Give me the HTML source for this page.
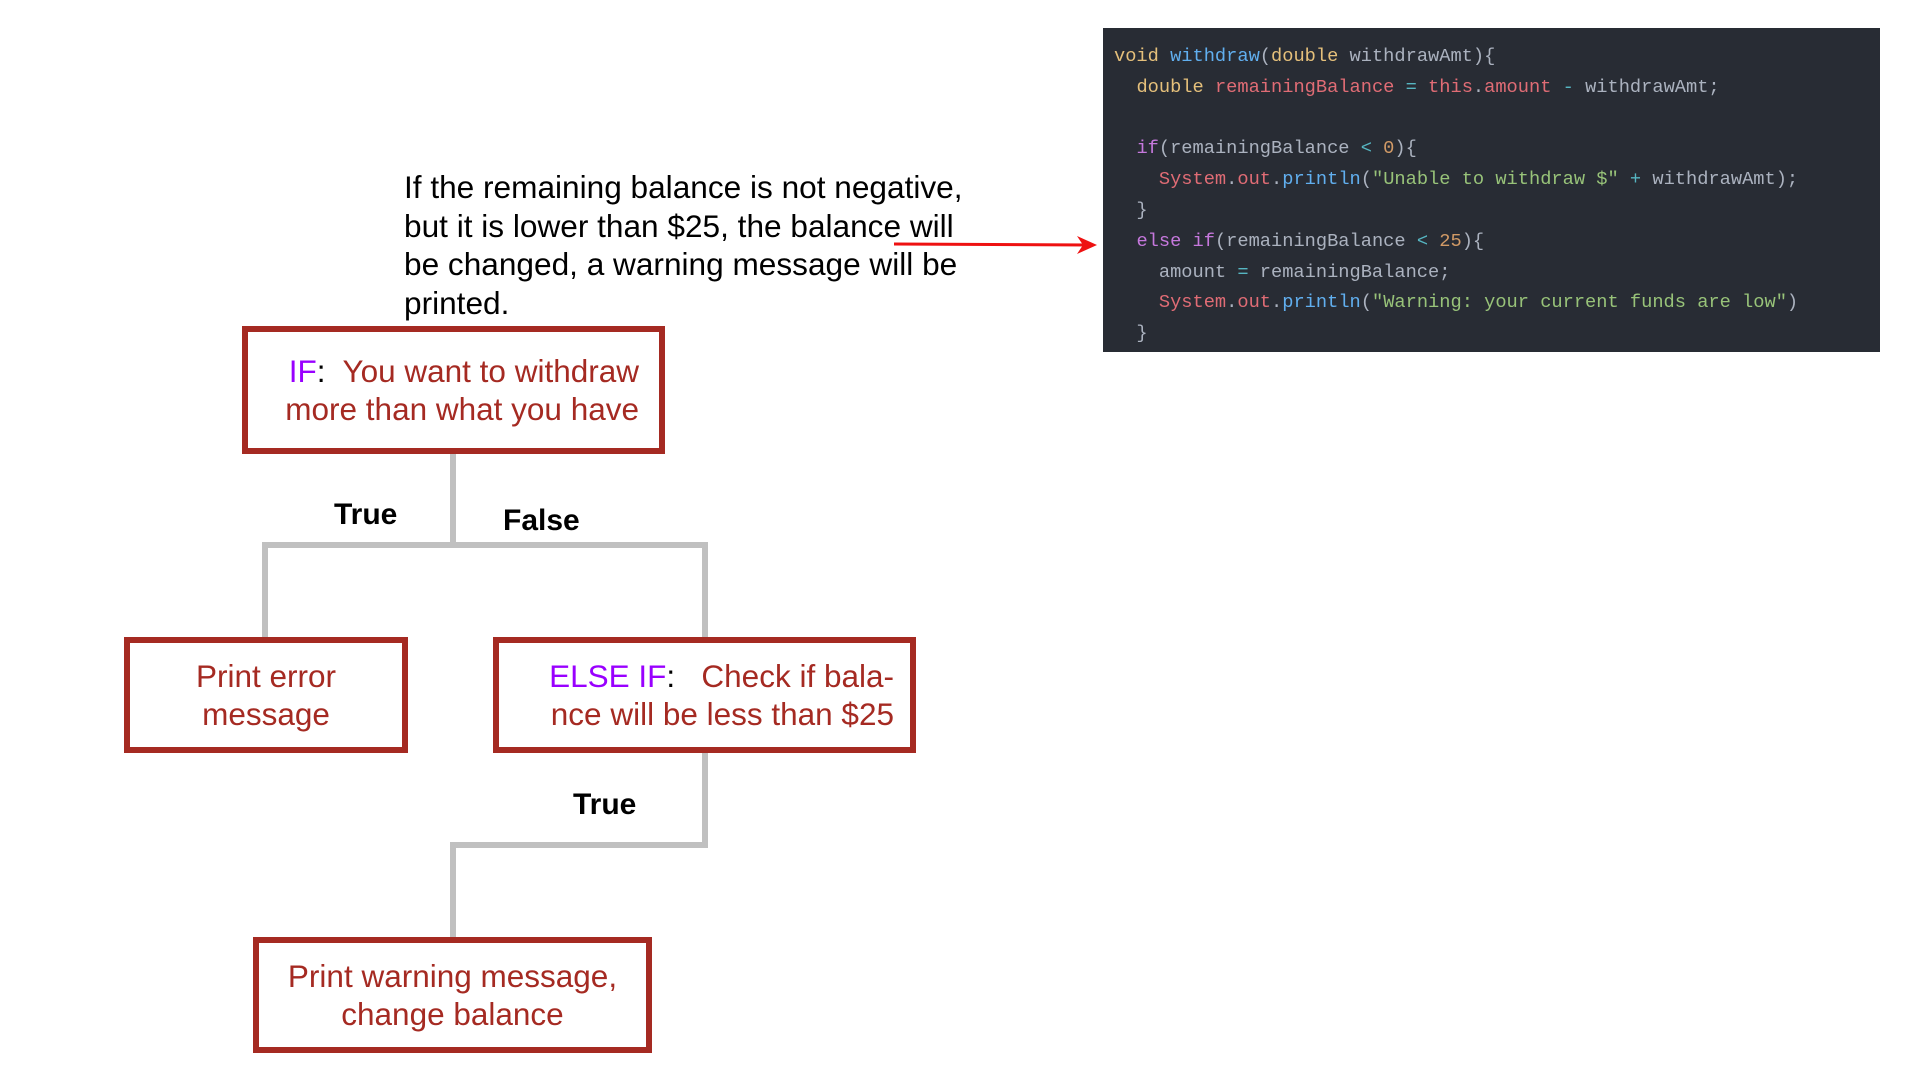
<!DOCTYPE html>
<html><head><meta charset="utf-8"><style>
body{margin:0;width:1920px;height:1080px;background:#fff;position:relative;overflow:hidden;font-family:"Liberation Sans",Arial,sans-serif}
.abs{position:absolute}
.code{left:1103px;top:28px;width:777px;height:324px;background:#282c34}
.code pre{margin:0;position:absolute;left:11px;top:13px;font-family:"Liberation Mono",monospace;font-size:18.7px;line-height:30.8px;color:#abb2bf}
.y{color:#e5c07b}.b{color:#61afef}.r{color:#e06c75}.p{color:#c678dd}.o{color:#d19a66}.g{color:#98c379}.c{color:#56b6c2}
.para{left:404px;top:168px;font-size:31.6px;line-height:38.5px;color:#000;white-space:nowrap}
.box{position:absolute;border:6px solid #a52a22;box-sizing:border-box;color:#a52a22;font-size:31.5px;line-height:38px;display:flex;align-items:center;justify-content:center;text-align:center}
.lbl{position:absolute;font-weight:bold;font-size:30px;color:#000}
.pu{color:#9900ff}
</style></head><body>
<svg class="abs" style="left:0;top:0" width="1920" height="1080">
<g stroke="#c0c0c0" stroke-width="6" fill="none">
<polyline points="453,454 453,545"/>
<polyline points="265,642 265,545 705,545 705,642"/>
<polyline points="705,753 705,845 453,845 453,943"/>
</g>
<line x1="894" y1="244" x2="1088" y2="245" stroke="#ee1111" stroke-width="3"/>
<polygon points="1097,245 1077,236 1083,245 1077,254" fill="#ee1111"/>
</svg>
<div class="abs code"><pre><span class="y">void</span> <span class="b">withdraw</span>(<span class="y">double</span> withdrawAmt){
  <span class="y">double</span> <span class="r">remainingBalance</span> <span class="c">=</span> <span class="r">this</span>.<span class="r">amount</span> <span class="c">-</span> withdrawAmt;

  <span class="p">if</span>(remainingBalance <span class="c">&lt;</span> <span class="o">0</span>){
    <span class="r">System</span>.<span class="r">out</span>.<span class="b">println</span>(<span class="g">"Unable to withdraw $"</span> <span class="c">+</span> withdrawAmt);
  }
  <span class="p">else</span> <span class="p">if</span>(remainingBalance <span class="c">&lt;</span> <span class="o">25</span>){
    amount <span class="c">=</span> remainingBalance;
    <span class="r">System</span>.<span class="r">out</span>.<span class="b">println</span>(<span class="g">"Warning: your current funds are low"</span>)
  }</pre></div>
<div class="abs para">If the remaining balance is not negative,<br>but it is lower than $25, the balance will<br>be changed, a warning message will be<br>printed.</div>
<div class="box" style="left:242px;top:326px;width:423px;height:128px;justify-content:flex-end;padding-right:20px;text-align:right"><div><span class="pu">IF</span><span style="color:#000">:</span>&nbsp; You want to withdraw<br>more than what you have</div></div>
<div class="lbl" style="left:334px;top:498px">True</div>
<div class="lbl" style="left:503px;top:504px">False</div>
<div class="box" style="left:124px;top:637px;width:284px;height:116px"><div>Print error<br>message</div></div>
<div class="box" style="left:493px;top:637px;width:423px;height:116px;justify-content:flex-end;padding-right:16px;text-align:right"><div><span class="pu">ELSE IF</span><span style="color:#000">:</span>&nbsp;&nbsp; Check if bala-<br>nce will be less than $25</div></div>
<div class="lbl" style="left:573px;top:788px">True</div>
<div class="box" style="left:253px;top:937px;width:399px;height:116px"><div>Print warning message,<br>change balance</div></div>
</body></html>
